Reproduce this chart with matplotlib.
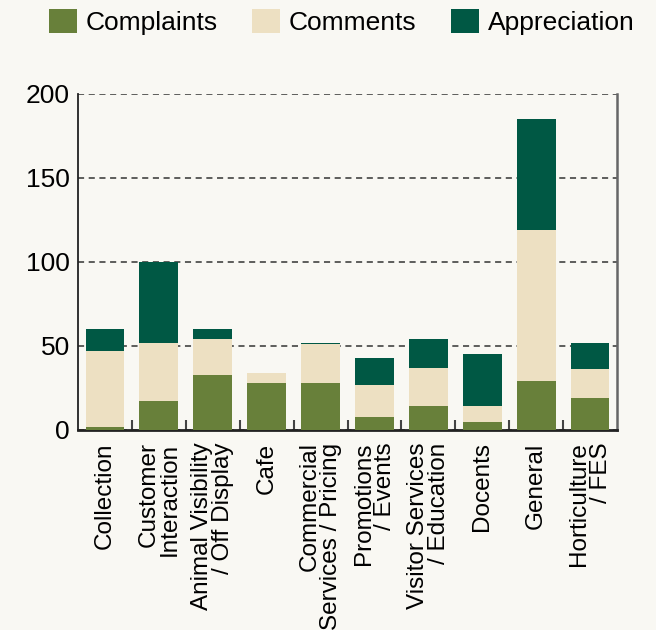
import matplotlib
matplotlib.use("Agg")
import matplotlib.pyplot as plt
import numpy as np
from matplotlib.ticker import FixedLocator, NullFormatter

categories = ["Collection", "Customer\nInteraction", "Animal Visibility\n/ Off Display",
              "Cafe", "Commercial\nServices / Pricing", "Promotions\n/ Events",
              "Visitor Services\n/ Education", "Docents", "General", "Horticulture\n/ FES"]
complaints = [2, 17, 33, 28, 28, 8, 14, 5, 29, 19]
comments = [45, 35, 21, 6, 23, 19, 23, 9, 90, 17]
appreciation = [13, 48, 6, 0, 1, 16, 17, 31, 66, 16]
yticks = [0, 50, 100, 150, 200]

plt.rcParams['font.family'] = ['Liberation Sans', 'DejaVu Sans']
bg = '#f9f8f3'
c1, c2, c3 = '#68803a', '#ede0c2', '#005844'

fig = plt.figure(figsize=(6.56, 6.30), dpi=100, facecolor=bg)
ax = fig.add_axes([0.119, 0.3175, 0.8215, 0.5333], facecolor=bg)

x = np.arange(len(categories))
w = 0.72
b1 = ax.bar(x, complaints, w, color=c1, label='Complaints', zorder=3)
bottom2 = np.array(complaints)
b2 = ax.bar(x, comments, w, bottom=bottom2, color=c2, label='Comments', zorder=3)
bottom3 = bottom2 + np.array(comments)
b3 = ax.bar(x, appreciation, w, bottom=bottom3, color=c3, label='Appreciation', zorder=3)

ax.set_xlim(-0.5, len(categories) - 0.5)
ax.set_ylim(0, 200)
ax.set_yticks(yticks)
ax.set_yticklabels([str(v) for v in yticks], fontsize=19)
ax.yaxis.grid(True, linestyle=(0, (4, 3)), color='#333333', linewidth=1.1, zorder=0)
ax.set_axisbelow(True)

ax.set_xticks(x)
ax.set_xticklabels(categories, rotation=90, fontsize=17.5, va='top', ha='center',
                   multialignment='right', linespacing=0.95)
ax.tick_params(axis='x', which='major', length=0, pad=9)
ax.xaxis.set_minor_locator(FixedLocator(np.arange(0.5, len(categories) - 0.5, 1)))
ax.xaxis.set_minor_formatter(NullFormatter())
ax.tick_params(axis='x', which='minor', direction='in', length=7, width=1.5, color='#444444')
ax.tick_params(axis='y', length=0, pad=6)

for s in ['top']:
    ax.spines[s].set_visible(False)
ax.spines['left'].set_color('#222222')
ax.spines['left'].set_linewidth(1.3)
ax.spines['bottom'].set_color('#222222')
ax.spines['bottom'].set_linewidth(2)
ax.spines['right'].set_color('#666666')
ax.spines['right'].set_linewidth(1.8)

fig.legend(handles=[b1, b2, b3], labels=['Complaints', 'Comments', 'Appreciation'],
           loc='center', bbox_to_anchor=(0.521, 0.965), ncol=3, frameon=False,
           fontsize=19, handlelength=1.05, handleheight=1.05, handletextpad=0.35,
           columnspacing=1.3)

fig.savefig('out.png', dpi=100, facecolor=bg)
